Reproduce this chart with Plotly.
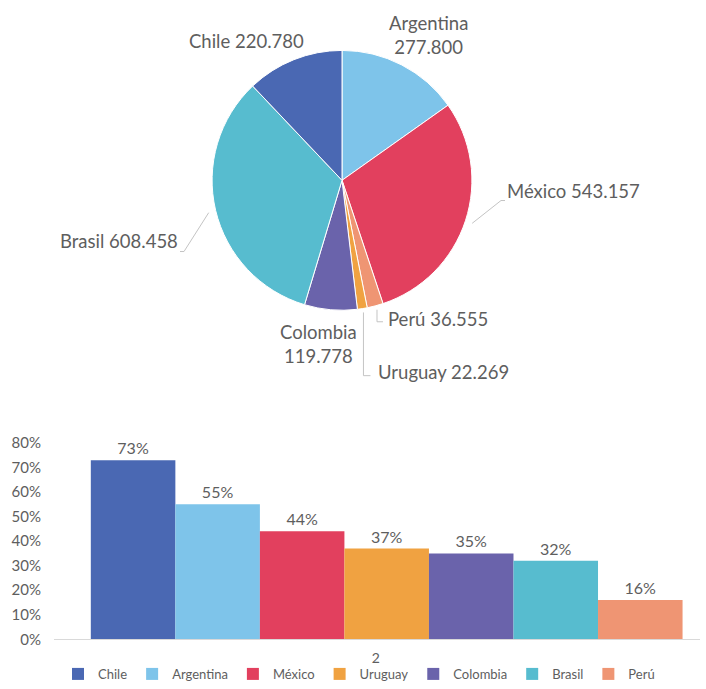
import math
import plotly.graph_objects as go

countries = ["Chile", "Argentina", "México", "Uruguay", "Colombia", "Brasil", "Perú"]
colors = ["#4A68B3", "#7EC4EA", "#E2405E", "#F0A241", "#6A63AB", "#57BCCF", "#EF9573"]
bar_share = [0.73, 0.55, 0.44, 0.37, 0.35, 0.32, 0.16]
bar_category = ["2"]

pie_order = ["Argentina", "México", "Perú", "Uruguay", "Colombia", "Brasil", "Chile"]
pie_values = [277800, 543157, 36555, 22269, 119778, 608458, 220780]

W, H = 706, 689
color_of = dict(zip(countries, colors))
grey = "#5e5e5e"
line_grey = "#c4c4c4"
font_family = "Lato, Open Sans, sans-serif"

# pie geometry in pixels
CX, CY, R = 342, 179, 131
R_DOM = R + 4


def px(x):
    return x / W


def py(y):
    return 1 - y / H


def fmt(v):
    return f"{v:,}".replace(",", ".")


fig = go.Figure()
fig.add_trace(go.Pie(
    labels=pie_order,
    values=pie_values,
    textinfo="none",
    sort=False,
    direction="clockwise",
    rotation=0,
    marker=dict(colors=[color_of[c] for c in pie_order], line=dict(color="white", width=1)),
    domain=dict(x=[px(CX - R_DOM), px(CX + R_DOM)], y=[py(CY - 2 + R_DOM), py(CY - 2 - R_DOM)]),
    showlegend=False,
    hoverinfo="label+value",
))

# slice mid-angle points just outside the edge (computed from the values)
total = sum(pie_values)
edge = {}
cum = 0
for lab, v in zip(pie_order, pie_values):
    mid = (cum + v / 2) / total * 2 * math.pi
    edge[lab] = (CX + (R + 6) * math.sin(mid), CY - (R + 6) * math.cos(mid))
    cum += v

val = dict(zip(pie_order, pie_values))

# label placement: (x, y, xanchor, two_lines)
label_pos = {
    "Chile": (246, 32, "center", False),
    "Argentina": (428, 26, "center", True),
    "México": (505, 188, "left", False),
    "Perú": (386, 321, "left", False),
    "Uruguay": (376, 376, "left", False),
    "Colombia": (318, 347, "center", True),
    "Brasil": (180, 240, "right", False),
}
for lab, (x, y, anc, two) in label_pos.items():
    txt = f"{lab}<br>{fmt(val[lab])}" if two else f"{lab} {fmt(val[lab])}"
    fig.add_annotation(x=px(x), y=py(y), xref="paper", yref="paper", text=txt,
                       showarrow=False, xanchor=anc, yanchor="middle", align="center",
                       font=dict(size=18.5, color=grey, family=font_family))

# leader lines
ex, ey = edge["México"]
fig.add_shape(type="path", xref="paper", yref="paper",
              path=f"M{px(ex)},{py(ey)} L{px(501)},{py(198)} L{px(505)},{py(198)}",
              line=dict(color=line_grey, width=1))
ex, ey = edge["Brasil"]
fig.add_shape(type="path", xref="paper", yref="paper",
              path=f"M{px(ex)},{py(ey)} L{px(184)},{py(251)} L{px(180)},{py(251)}",
              line=dict(color=line_grey, width=1))
ex, ey = edge["Perú"]
fig.add_shape(type="path", xref="paper", yref="paper",
              path=f"M{px(ex)},{py(ey)} L{px(ex)},{py(324)} L{px(ex+6)},{py(324)}",
              line=dict(color=line_grey, width=1))
ex, ey = edge["Uruguay"]
fig.add_shape(type="path", xref="paper", yref="paper",
              path=f"M{px(ex)},{py(ey)} L{px(ex)},{py(380)} L{px(ex+7)},{py(380)}",
              line=dict(color=line_grey, width=1))

for c, col, v in zip(countries, colors, bar_share):
    fig.add_trace(go.Bar(
        x=bar_category, y=[v], name=c,
        marker=dict(color=col, line=dict(width=0)),
        text=[f"{round(v*100)}%"], textposition="outside",
        textfont=dict(size=16, color=grey, family=font_family),
        cliponaxis=False,
    ))

fig.update_layout(
    width=W, height=H,
    margin=dict(l=0, r=0, t=0, b=0),
    paper_bgcolor="white", plot_bgcolor="white",
    font=dict(family=font_family, color=grey, size=13),
    barmode="group", bargap=0.084, bargroupgap=0,
    xaxis=dict(domain=[px(54), px(700)], range=[-0.515, 0.485], showgrid=False, showline=True,
               linecolor="#d9d9d9", linewidth=1, ticks="", tickfont=dict(size=14, color=grey),
               ticklabelstandoff=6, ticklabelshift=-11),
    yaxis=dict(domain=[py(654), py(450)], range=[0, 0.8], dtick=0.1,
               tickformat=".0%", showgrid=False, zeroline=False, showline=False,
               tickfont=dict(size=15, color=grey), ticklabelstandoff=12),
    legend=dict(orientation="h", x=px(58), xanchor="left", y=py(690), yanchor="middle",
                bgcolor="rgba(0,0,0,0)",
                font=dict(size=13, color=grey), itemwidth=30, traceorder="normal"),
)

fig.write_html("out.html", config={"displayModeBar": False},
               post_script="document.body.style.margin='0';")
